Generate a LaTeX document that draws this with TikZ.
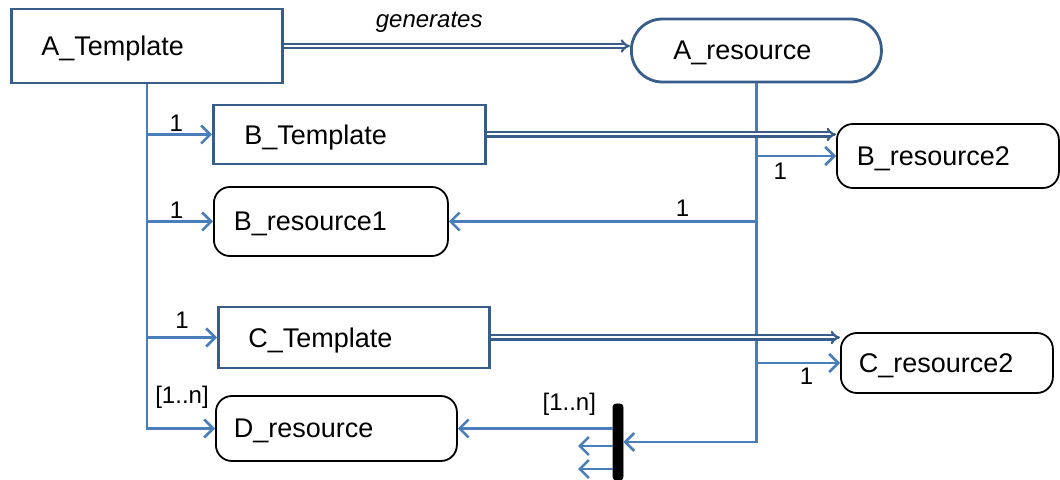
\documentclass[tikz,border=0pt]{standalone}
\usepackage{fontspec}
\setmainfont{Liberation Sans}
\usetikzlibrary{arrows.meta}
\definecolor{tplblue}{RGB}{56,93,138}
\definecolor{linkblue}{RGB}{74,126,187}
\tikzset{
  tmpl/.style={draw=tplblue, line width=1.4pt, align=left, inner xsep=15pt, text width=#1, text depth=0pt, anchor=west},
  res/.style={draw=black, line width=0.9pt, rounded corners=8pt, align=left, inner xsep=10pt, text width=#1, text depth=0pt, anchor=west},
  link/.style={draw=linkblue, line width=1.3pt, -{Straight Barb[length=4.5pt,width=9pt]}},
  gen/.style={draw=tplblue, line width=1.1pt, double=white, double distance=1pt, -{Implies}},
  lbl/.style={font=\fontsize{12}{14}\selectfont, inner sep=1pt}
}
\begin{document}
\begin{tikzpicture}[x=0.5pt, y=-0.5pt, font=\fontsize{13.5}{16}\selectfont]
        \useasboundingbox (0,0) rectangle (1060,480);
        % templates and the resources they generate
        \node[tmpl=105.5pt, minimum height=37pt] (atpl) at (10,46) {A\_Template};
        \node[res=83pt, draw=tplblue, line width=1.4pt, rounded corners=15.5pt, inner xsep=21pt, minimum height=31.5pt] (ares) at (630,50.5) {A\_resource};
        \node[tmpl=105pt, inner xsep=15.5pt, minimum height=29.5pt] (btpl) at (212,134.5) {B\_Template};
        \node[res=97pt, minimum height=34.5pt] (bres1) at (213,221.5) {B\_resource1};
        \node[res=91pt, minimum height=32pt] (bres2) at (836,156) {B\_resource2};
        \node[tmpl=105.5pt, minimum height=30.5pt] (ctpl) at (217,337.5) {C\_Template};
        \node[res=88pt, inner xsep=9pt, minimum height=30pt] (cres2) at (840,363) {C\_resource2};
        \node[res=102.5pt, inner xsep=9pt, minimum height=32.5pt] (dres) at (215,428.5) {D\_resource};
        \node[fill=black, draw=black, inner sep=0pt, minimum width=5pt, minimum height=38pt, rounded corners=1.5pt] (fork) at (618,442) {};
        \coordinate (out1) at (578,446);
        \coordinate (out2) at (578,469);

        % left trunk
        \draw[link] (atpl.south) |- (dres.west);
        \draw[link] (atpl.south |- btpl.west) -- node[lbl, above, pos=0.45] {1} (btpl.west);
        \draw[link] (atpl.south |- bres1.west) -- node[lbl, above, pos=0.45] {1} (bres1.west);
        \draw[link] (atpl.south |- ctpl.west) -- node[lbl, above=3pt, pos=0.5] {1} (ctpl.west);
        \node[lbl] (dmult) at (182,397) {[1..n]};

        % right trunk
        \draw[link] (ares.south) |- (fork.east);
        \draw[link] (ares.south |- bres2.west) -- node[lbl, below=2pt, pos=0.3] {1} (bres2.west);
        \draw[link] (ares.south |- bres1.east) -- node[lbl, above=1pt, pos=0.24] {1} (bres1.east);
        \draw[link] (ares.south |- cres2.west) -- node[lbl, below=1pt, pos=0.6] {1} (cres2.west);
        \draw[link] (fork.west |- dres.east) -- node[lbl, above=5pt, pos=0.28] {[1..n]} (dres.east);
        \draw[link] (fork.west |- out1) -- (out1);
        \draw[link] (fork.west |- out2) -- (out2);

        % generates
        \draw[gen] (atpl.east) -- node[lbl, above=5pt, pos=0.42, font=\fontsize{12}{14}\selectfont\itshape] {generates} (atpl.east -| ares.west);
        \draw[gen] (btpl.east) -- (btpl.east -| bres2.west);
        \draw[gen] (ctpl.east) -- (ctpl.east -| cres2.west);
    \end{tikzpicture}
\end{document}
